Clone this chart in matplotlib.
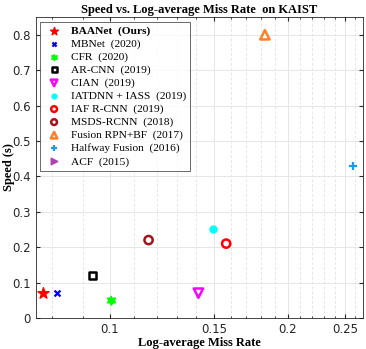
import numpy as np
import matplotlib
matplotlib.use('Agg')
import matplotlib.pyplot as plt
from matplotlib.path import Path
from matplotlib.ticker import FixedLocator, NullFormatter

# --- data
methods = ['BAANet  (Ours)', 'MBNet  (2020)', 'CFR  (2020)', 'AR-CNN  (2019)', 'CIAN  (2019)',
           'IATDNN + IASS  (2019)', 'IAF R-CNN  (2019)', 'MSDS-RCNN  (2018)',
           'Fusion RPN+BF  (2017)', 'Halfway Fusion  (2016)', 'ACF  (2015)']
miss_rate = [0.077, 0.0813, 0.1005, 0.0934, 0.1412, 0.1495, 0.1573, 0.1163, 0.1829, 0.2575, 0.4732]
speed = [0.07, 0.07, 0.05, 0.12, 0.07, 0.25, 0.21, 0.22, 0.80, 0.43, 2.73]

# hexagram marker for CFR
ang = np.pi/2 + np.arange(12)*np.pi/6
rad = np.where(np.arange(12) % 2 == 0, 1.0, 0.58)
hexagram = Path(np.column_stack([rad*np.cos(ang), rad*np.sin(ang)]))

styles = [
    dict(marker='*', c='#ff0000', s=70, fill=True),
    dict(marker='x', c='#0000ff', s=18, fill=True, lw=1.6),
    dict(marker=hexagram, c='#00ff00', s=45, fill=True),
    dict(marker='s', c='#000000', s=28, fill=False),
    dict(marker='v', c='#ff00ff', s=45, fill=False),
    dict(marker='o', c='#00ffff', s=25, fill=True),
    dict(marker='o', c='#ff0000', s=35, fill=False),
    dict(marker='o', c='#a0141e', s=35, fill=False),
    dict(marker='^', c='#ff7f27', s=45, fill=False),
    dict(marker='+', c='#1e9be6', s=35, fill=True, lw=1.6),
    dict(marker='>', c='#b040b0', s=45, fill=True),
]

fig = plt.figure(figsize=(3.66, 3.49), dpi=100)
ax = fig.add_axes([0.098, 0.089, 0.894, 0.862])

for x, y, name, st in zip(miss_rate, speed, methods, styles):
    if st['marker'] in ('x', '+'):
        ax.scatter(x, y, marker=st['marker'], s=st['s'], color=st['c'], linewidths=st['lw'], label=name, zorder=3)
    elif st['fill']:
        ax.scatter(x, y, marker=st['marker'], s=st['s'], color=st['c'], label=name, zorder=3)
    else:
        ax.scatter(x, y, marker=st['marker'], s=st['s'], facecolors='none', edgecolors=st['c'],
                   linewidths=1.8, label=name, zorder=3)

ax.set_xscale('log')
ax.set_xlim(0.075, 0.268)
ax.set_ylim(0, 0.85)

ax.xaxis.set_major_locator(FixedLocator([0.1, 0.15, 0.2, 0.25]))
ax.set_xticklabels(['0.1', '0.15', '0.2', '0.25'])
minors = [v/100 for v in range(8, 27) if v not in (10, 15, 20, 25)]
ax.xaxis.set_minor_locator(FixedLocator(minors))
ax.xaxis.set_minor_formatter(NullFormatter())
ax.set_yticks(np.arange(0, 0.81, 0.1))
ax.set_yticklabels(['0'] + ['%.1f' % v for v in np.arange(0.1, 0.81, 0.1)])

ax.grid(True, which='major', color='#e6e6e6', lw=0.7, ls='-')
ax.grid(True, which='minor', axis='x', color='#e6e6e6', lw=0.7, ls=(0, (3, 2)))
ax.set_axisbelow(True)
ax.tick_params(which='both', direction='in', top=True, right=True, labelsize=8.5, colors='#262626', length=3)
ax.tick_params(which='minor', length=1.5)
for sp in ax.spines.values():
    sp.set_color('#262626')
    sp.set_linewidth(0.6)

ax.set_title('Speed vs. Log-average Miss Rate  on KAIST', fontsize=9, fontweight='bold',
             family='Liberation Serif', pad=3)
ax.set_xlabel('Log-average Miss Rate', fontsize=9, fontweight='bold', family='Liberation Serif', labelpad=1)
ax.set_ylabel('Speed (s)', fontsize=9, fontweight='bold', family='Liberation Serif', va='center')
ax.yaxis.set_label_coords(-0.083, 0.5)

leg = ax.legend(loc='upper left', prop={'family': 'Liberation Serif', 'size': 8.2},
                frameon=True, fancybox=False, edgecolor='#262626', borderaxespad=0.4,
                handletextpad=0.6, labelspacing=0.25, markerscale=0.7, scatterpoints=1,
                borderpad=0.35, handlelength=1.7)
leg.get_frame().set_linewidth(0.6)
leg.get_texts()[0].set_fontweight('bold')

fig.savefig('out.png', dpi=100)
